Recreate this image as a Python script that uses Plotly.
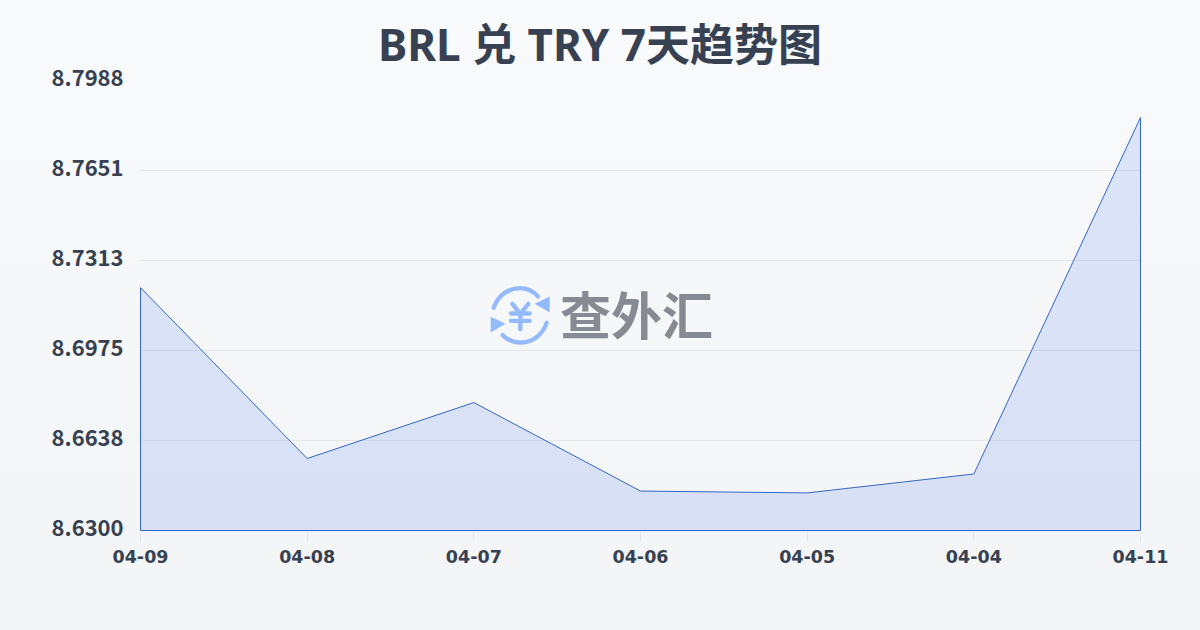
import base64
import plotly.graph_objects as go

dates = ["04-09", "04-08", "04-07", "04-06", "04-05", "04-04", "04-11"]
rates = [8.7211, 8.6570, 8.6780, 8.6448, 8.6441, 8.6512, 8.7849]
y_ticks = [8.6300, 8.6638, 8.6975, 8.7313, 8.7651, 8.7988]
y_labels = ["8.6300", "8.6638", "8.6975", "8.7313", "8.7651", "8.7988"]
title = "BRL 兑 TRY 7天趋势图"
brand = "查外汇"

W, H = 1200, 630
L, R, T, B = 140, 1141, 80, 531
PW, PH = R - L, B - T
# half-pixel padding keeps the 1px outline and grid lines on whole pixels
x_pad = 0.5 * (len(dates) - 1) / 1000
y_pad = 0.5 * (y_ticks[-1] - y_ticks[0]) / 450


def uri(svg):
    return "data:image/svg+xml;base64," + base64.b64encode(svg.encode()).decode()


bg = f'''<svg xmlns="http://www.w3.org/2000/svg" width="{W}" height="{H}" viewBox="0 0 {W} {H}">
<defs><linearGradient id="g" x1="0" y1="0" x2="0" y2="1"><stop offset="0" stop-color="#f8fafc"/><stop offset="1" stop-color="#f3f4f6"/></linearGradient></defs>
<rect width="{W}" height="{H}" fill="url(#g)"/></svg>'''

logo = '''<svg xmlns="http://www.w3.org/2000/svg" width="61" height="60" viewBox="60 45 183 180">
<g fill="none" stroke="#93bbfb" stroke-width="13" stroke-linecap="round" stroke-linejoin="round">
<path d="M71 112 C84 74 116 53 150 53 C172 53 190 62 204 78"/>
<path d="M230 157 C217 195 186 216 150 216 C128 216 112 208 98 194"/>
<path d="M127 100 L151 130 L175 100 M123 129 H179 M123 151 H179 M151 130 V176"/>
</g>
<path d="M239 78 L239 126 L194 100 Z" fill="#93bbfb"/>
<path d="M62 139 L62 186 L106 160 Z" fill="#93bbfb"/>
</svg>'''

fig = go.Figure()
fig.add_trace(go.Scatter(
    x=dates + [dates[-1], dates[0], dates[0]],
    y=rates + [y_ticks[0], y_ticks[0], rates[0]],
    mode="lines",
    line=dict(color="#3366c4", width=1),
    fill="toself",
    fillcolor="rgba(59,110,235,0.15)",
    hoverinfo="skip",
    showlegend=False,
    cliponaxis=False,
))

fig.update_layout(
    width=W, height=H,
    margin=dict(l=L, r=W - R, t=T, b=H - B, autoexpand=False),
    paper_bgcolor="rgba(0,0,0,0)",
    plot_bgcolor="rgba(0,0,0,0)",
    title=dict(
        text=title, x=0.5, xanchor="center", y=1 - 46 / H, yanchor="middle",
        font=dict(family="Noto Sans, Noto Sans CJK SC", size=44, color="#374151", weight=700),
    ),
    xaxis=dict(
        type="category", categoryorder="array", categoryarray=dates,
        range=[-x_pad, len(dates) - 1 + x_pad], showgrid=False, zeroline=False, showline=False,
        ticks="outside", ticklen=10, tickwidth=1, tickcolor="#e5e7eb",
        tickfont=dict(family="DejaVu Sans", size=17.5, color="#374151", weight=700),
    ),
    yaxis=dict(
        range=[y_ticks[0] - y_pad, y_ticks[-1] + y_pad], tickmode="array",
        tickvals=y_ticks, ticktext=y_labels,
        showgrid=True, gridcolor="#e5e7eb", gridwidth=1, zeroline=False, showline=False,
        ticks="outside", ticklen=11, tickcolor="rgba(0,0,0,0)",
        ticklabelshift=-2,
        tickfont=dict(family="Noto Sans CJK SC", size=22, color="#374151", weight=700),
    ),
    images=[
        dict(source=uri(bg), xref="paper", yref="paper", x=-L / PW, y=B / PH,
             sizex=W / PW, sizey=H / PH, sizing="stretch", xanchor="left", yanchor="top", layer="below"),
        dict(source=uri(logo), xref="paper", yref="paper", x=(490 - L) / PW, y=(B - 285.5) / PH,
             sizex=61 / PW, sizey=60 / PH, sizing="stretch", xanchor="left", yanchor="top", layer="above"),
    ],
    annotations=[dict(
        text=brand, xref="paper", yref="paper", x=(636 - L) / PW, y=(B - 313) / PH,
        xanchor="center", yanchor="middle", showarrow=False,
        font=dict(family="Noto Sans CJK SC", size=51, color="#858a93", weight=700),
    )],
)
fig.write_html("out.html", config={"displayModeBar": False},
               post_script="document.body.style.margin='0';document.body.style.overflow='hidden';")
